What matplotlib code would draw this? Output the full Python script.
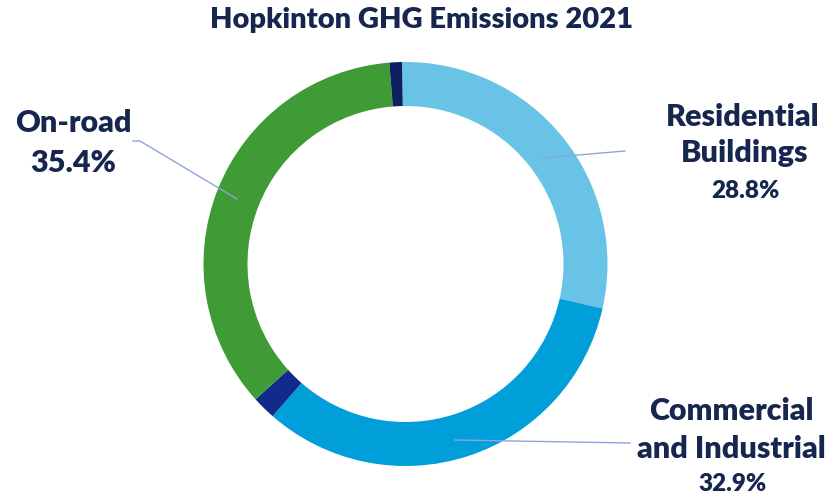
import matplotlib.pyplot as plt

# slices clockwise from the top
sectors = ['Residential Buildings', 'Commercial and Industrial', 'Other A', 'On-road', 'Other B']
shares = [28.8, 32.9, 1.9, 35.4, 1.0]
colors = ['#69c3e7', '#009fd9', '#112b8b', '#3e9b36', '#0c1f5f']

txt = '#17264f'
line_c = '#8fa3e0'

fig = plt.figure(figsize=(8.4, 4.94), dpi=100)
ax = fig.add_axes([0, 0, 1, 1])

ax.pie(shares, colors=colors, startangle=91, counterclock=False,
       center=(405.5, 230), radius=202, frame=True,
       wedgeprops=dict(width=44, edgecolor='none'))
ax.set_xlim(0, 840)
ax.set_ylim(0, 494)
ax.set_aspect('equal')
ax.axis('off')

font = 'Lato'
wt = 'heavy'
ax.text(422, 494 - 28, 'Hopkinton GHG Emissions 2021', ha='center', va='baseline',
        fontsize=21, fontweight=wt, color=txt, family=font)

# On-road
ax.text(73, 494 - 132, 'On-road', ha='center', va='baseline', fontsize=22,
        fontweight=wt, color=txt, family=font)
ax.text(73, 494 - 172, f'{shares[3]:.1f}%', ha='center', va='baseline', fontsize=22,
        fontweight=wt, color=txt, family=font)
ax.plot([133, 140, 237], [494 - 141, 494 - 141, 494 - 199], color=line_c, lw=1)

# Residential
ax.text(743, 494 - 126, 'Residential', ha='center', va='baseline', fontsize=22,
        fontweight=wt, color=txt, family=font)
ax.text(745, 494 - 162, 'Buildings', ha='center', va='baseline', fontsize=22,
        fontweight=wt, color=txt, family=font)
ax.text(745, 494 - 198, f'{shares[0]:.1f}%', ha='center', va='baseline', fontsize=17.5,
        fontweight=wt, color=txt, family=font)
ax.plot([543, 625], [494 - 158, 494 - 151], color=line_c, lw=1)

# Commercial
ax.text(731, 494 - 420, 'Commercial', ha='center', va='baseline', fontsize=22,
        fontweight=wt, color=txt, family=font)
ax.text(731, 494 - 458, 'and Industrial', ha='center', va='baseline', fontsize=22,
        fontweight=wt, color=txt, family=font)
ax.text(733, 494 - 491, f'{shares[1]:.1f}%', ha='center', va='baseline', fontsize=17.5,
        fontweight=wt, color=txt, family=font)
ax.plot([455, 630], [494 - 440, 494 - 443], color=line_c, lw=1)

fig.savefig('out.png', dpi=100, facecolor='white')
